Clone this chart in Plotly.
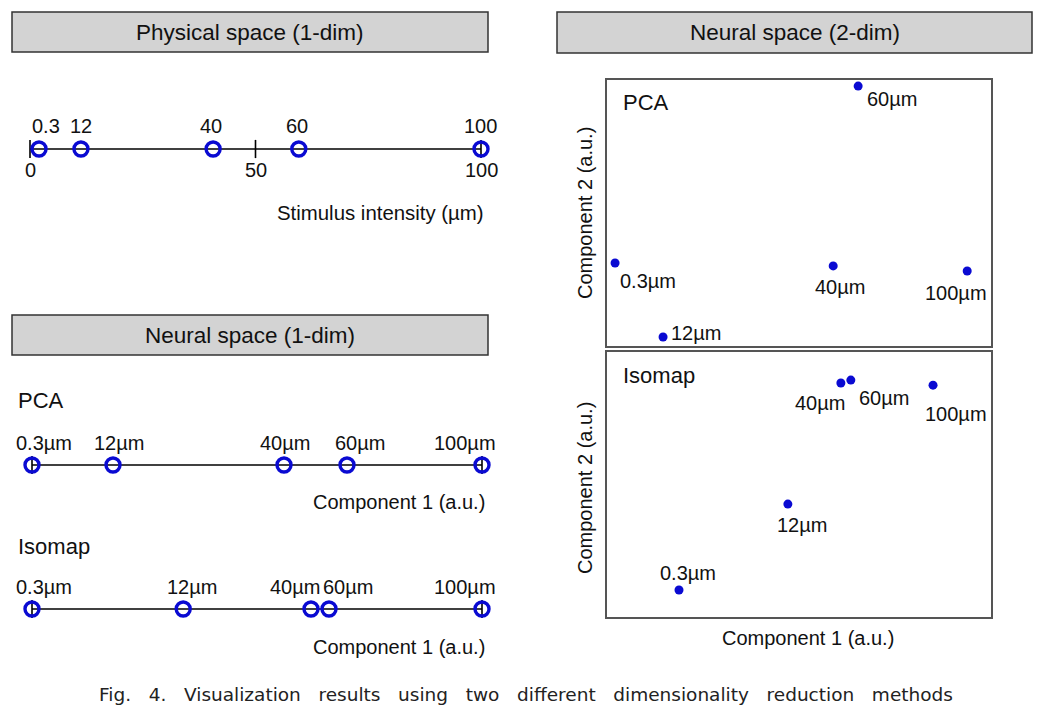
import plotly.graph_objects as go

# ---------------- data ----------------
physical_labels = ["0.3", "12", "40", "60", "100"]
physical_values = [2.0, 11.3, 40.6, 59.6, 100.0]
physical_ticks = [0, 50, 100]
physical_tick_text = ["0", "50", "100"]

stim_labels = ["0.3µm", "12µm", "40µm", "60µm", "100µm"]

pca1d_c1 = [0.0, 18.0, 56.0, 70.0, 100.0]
isomap1d_c1 = [0.0, 33.6, 62.0, 66.0, 100.0]
strip_ends = [0, 100]

pca2d_c1 = [2.1, 14.6, 58.9, 65.4, 93.8]
pca2d_c2 = [31.2, 3.4, 30.1, 97.7, 28.2]
isomap2d_c1 = [18.75, 47.1, 60.9, 63.5, 84.9]
isomap2d_c2 = [10.2, 42.6, 88.3, 89.4, 87.5]

caption_words = ["Fig.", "4.", "Visualization", "results", "using", "two",
                 "different", "dimensionality", "reduction", "methods"]

# ---------------- layout helpers (pixel geometry of the page) ----------------
PAGE_OFF = 8                 # default page margin around the plot div
W, H = 1052 - PAGE_OFF, 714 - PAGE_OFF

def px(x):
    return (x - PAGE_OFF) / W

def py(y):
    return 1 - (y - PAGE_OFF) / H

FONT = "Liberation Sans, Arial, sans-serif"
BLUE = "#0a0ad2"
TXT = "#111111"

fig = go.Figure()
annotations = []
shapes = []

def strip(axis_id, values, ticks, x0, x1, yc):
    xa = "x" if axis_id == 1 else f"x{axis_id}"
    ya = "y" if axis_id == 1 else f"y{axis_id}"
    fig.add_trace(go.Scatter(x=[0, 100], y=[0, 0], mode="lines",
                             line=dict(color="black", width=1.6),
                             xaxis=xa, yaxis=ya, hoverinfo="skip", cliponaxis=False))
    fig.add_trace(go.Scatter(x=ticks, y=[0] * len(ticks), mode="markers",
                             marker=dict(symbol="line-ns", size=13, color="black",
                                         line=dict(color="black", width=1.6)),
                             xaxis=xa, yaxis=ya, hoverinfo="skip", cliponaxis=False))
    fig.add_trace(go.Scatter(x=values, y=[0] * len(values), mode="markers",
                             marker=dict(symbol="circle-open", size=14, color=BLUE,
                                         line=dict(color=BLUE, width=3.4)),
                             xaxis=xa, yaxis=ya, hoverinfo="skip", cliponaxis=False))
    fig.layout[f"xaxis{'' if axis_id == 1 else axis_id}"] = dict(
        domain=[px(x0), px(x1)], range=[0, 100], visible=False, anchor=ya)
    fig.layout[f"yaxis{'' if axis_id == 1 else axis_id}"] = dict(
        domain=[py(yc + 20), py(yc - 20)], range=[-1, 1], visible=False, anchor=xa)
    return xa, ya

def label_set(xa, ya, xs, ys, texts, shifts, size=20):
    for x, y, t, (dx, dy) in zip(xs, ys, texts, shifts):
        annotations.append(dict(x=x, y=y, xref=xa, yref=ya, text=t, showarrow=False,
                                xshift=dx, yshift=dy, xanchor="center", yanchor="middle",
                                font=dict(family=FONT, size=size, color=TXT)))

def text(xp, ypix, t, size=20, xanchor="left", angle=0, family=FONT, color=TXT):
    annotations.append(dict(x=px(xp), y=py(ypix), xref="paper", yref="paper", text=t,
                            showarrow=False, xanchor=xanchor, yanchor="middle",
                            textangle=angle, font=dict(family=family, size=size, color=color)))

def header(x0, y0, x1, y1, t):
    shapes.append(dict(type="rect", xref="paper", yref="paper",
                       x0=px(x0), x1=px(x1), y0=py(y1), y1=py(y0),
                       fillcolor="#d3d3d3", line=dict(color="#333333", width=1.5),
                       layer="below"))
    text((x0 + x1) / 2, (y0 + y1) / 2, t, size=22.5, xanchor="center")

# ---------------- headers ----------------
header(12, 12, 488, 52, "Physical space (1-dim)")
header(557, 12, 1032, 53, "Neural space (2-dim)")
header(12, 315, 488, 355, "Neural space (1-dim)")

# ---------------- physical space strip ----------------
xa, ya = strip(1, physical_values, physical_ticks, 30, 481, 149)
label_set(xa, ya, physical_values, [0] * 5, physical_labels,
          [(7, 23), (0, 23), (-2, 23), (-2, 23), (-1, 23)])
label_set(xa, ya, physical_ticks, [0] * 3, physical_tick_text,
          [(0, -21), (0, -21), (0, -21)])
text(486, 213, "Stimulus intensity (µm)", xanchor="right", size=20.4)

# ---------------- neural 1-dim: PCA ----------------
text(16, 400, "PCA", size=22)
xa, ya = strip(2, pca1d_c1, strip_ends, 32, 482, 465)
label_set(xa, ya, pca1d_c1, [0] * 5, stim_labels,
          [(12, 22), (6, 22), (1, 22), (13, 22), (-17, 22)])
text(487, 502, "Component 1 (a.u.)", xanchor="right")

# ---------------- neural 1-dim: Isomap ----------------
text(16, 546, "Isomap", size=22)
xa, ya = strip(3, isomap1d_c1, strip_ends, 32, 482, 609)
label_set(xa, ya, isomap1d_c1, [0] * 5, stim_labels,
          [(12, 22), (9, 22), (-16, 22), (19, 22), (-17, 22)])
text(487, 647, "Component 1 (a.u.)", xanchor="right")

# ---------------- neural 2-dim panels ----------------
def panel(axis_id, xs, ys, y0, y1):
    xa, ya = f"x{axis_id}", f"y{axis_id}"
    fig.add_trace(go.Scatter(x=xs, y=ys, mode="markers",
                             marker=dict(size=9, color=BLUE),
                             xaxis=xa, yaxis=ya, hoverinfo="skip", cliponaxis=False))
    common = dict(showline=True, mirror=True, linecolor="#555555", linewidth=1.5,
                  showticklabels=False, ticks="", showgrid=False, zeroline=False,
                  range=[0, 100])
    fig.layout[f"xaxis{axis_id}"] = dict(domain=[px(607), px(991)], anchor=ya, **common)
    fig.layout[f"yaxis{axis_id}"] = dict(domain=[py(y1), py(y0)], anchor=xa, **common)
    return xa, ya

xa, ya = panel(4, pca2d_c1, pca2d_c2, 80, 346)
label_set(xa, ya, pca2d_c1, pca2d_c2, stim_labels,
          [(33, -18), (33, 4), (7, -21), (34, -13), (-11, -22)])
text(621, 103, "PCA", size=22)
text(585, 213, "Component 2 (a.u.)", xanchor="center", angle=-90)

xa, ya = panel(5, isomap2d_c1, isomap2d_c2, 352, 617)
label_set(xa, ya, isomap2d_c1, isomap2d_c2, stim_labels,
          [(9, 17), (14, -21), (-21, -20), (33, -18), (23, -29)])
text(621, 375, "Isomap", size=22)
text(585, 488, "Component 2 (a.u.)", xanchor="center", angle=-90)
text(808, 638, "Component 1 (a.u.)", xanchor="center")

# ---------------- caption ----------------
text(526, 694, "\u00a0\u00a0\u00a0".join(caption_words), size=18.5,
     xanchor="center", family="DejaVu Sans, sans-serif", color="#222222")

fig.update_layout(width=W, height=H, margin=dict(l=0, r=0, t=0, b=0),
                  paper_bgcolor="white", plot_bgcolor="white", showlegend=False,
                  annotations=annotations, shapes=shapes)

fig.write_html("out.html")
